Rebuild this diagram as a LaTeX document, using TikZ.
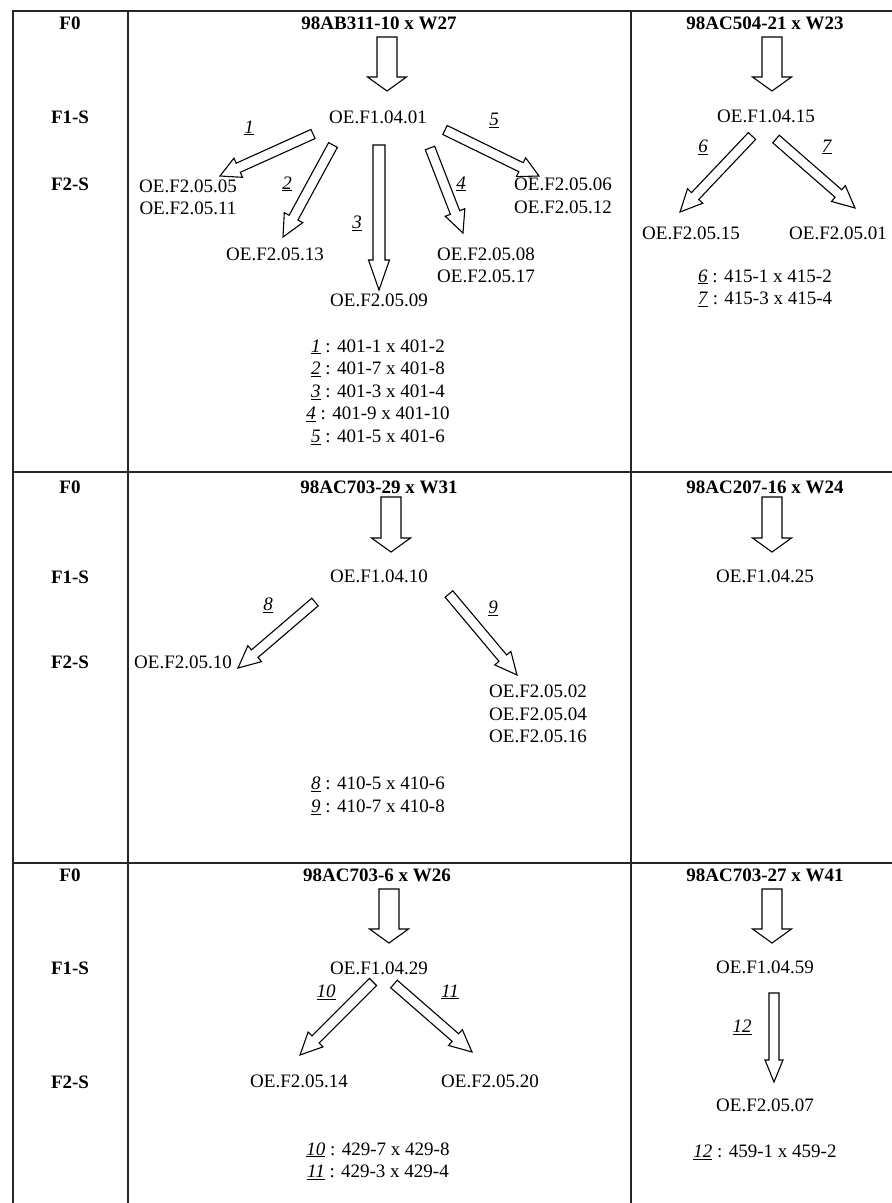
\documentclass[tikz,border=0pt]{standalone}
\usepackage{fontspec}
\setmainfont{Liberation Serif}
\usetikzlibrary{calc}
\tikzset{
  txt/.style={inner sep=0pt, font=\fontsize{19}{22.5}\selectfont, align=center},
  hdr/.style={inner sep=0pt, font=\fontsize{19}{22.5}\selectfont\bfseries, align=center},
  grid/.style={line width=1.6pt, draw=black!85},
  barrow/.style={draw, line width=1.1pt, fill=white, line join=miter},
}
\newcommand\nlab[1]{\underline{\textit{#1}}}
% #1 tail, #2 tip, #3 shaft half width, #4 head half width, #5 head length
\newcommand\blockarr[5]{%
  \path let \p1=(#1), \p2=(#2),
    \n1={atan2(\y2-\y1,\x2-\x1)}, \n2={veclen(\x2-\x1,\y2-\y1)} in
    [barrow, shift={(\p1)}, rotate=\n1]
    (0,#3) -- ({\n2-#5},#3) -- ({\n2-#5},#4) -- ({\n2},0) -- ({\n2-#5},-#4)
    -- ({\n2-#5},-#3) -- (0,-#3) -- cycle;%
}
\begin{document}
\begin{tikzpicture}[x=1pt,y=-1pt]
\useasboundingbox[fill=white] (0,0) rectangle (892,1203);
% table
\draw[grid] (13,1215) -- (13,11) -- (905,11);
\draw[grid] (128,11) -- (128,1215);
\draw[grid] (631,11) -- (631,1215);
\draw[grid] (13,472) -- (905,472);
\draw[grid] (13,863) -- (905,863);

% row labels
\node[hdr] (f0a) at (70,23) {F0};
\node[hdr] (f1a) at (70,117) {F1-S};
\node[hdr] (f2a) at (70,184) {F2-S};
\node[hdr] (f0b) at (70,487) {F0};
\node[hdr] (f1b) at (70,577) {F1-S};
\node[hdr] (f2b) at (70,662) {F2-S};
\node[hdr] (f0c) at (70,875) {F0};
\node[hdr] (f1c) at (70,968) {F1-S};
\node[hdr] (f2c) at (70,1082) {F2-S};

% ---------- row 1, middle ----------
\node[hdr] (h1) at (379,23) {98AB311-10 x W27};
\coordinate (h1s) at (387,37);
\coordinate (h1e) at (387,91);
\blockarr{h1s}{h1e}{10}{19.5}{14}
\node[txt] (p401) at (378,117) {OE.F1.04.01};
\node[txt] (c0505) at (188,197.5) {OE.F2.05.05\\OE.F2.05.11};
\node[txt] (c0513) at (275,254) {OE.F2.05.13};
\node[txt] (c0509) at (379,300) {OE.F2.05.09};
\node[txt] (c0508) at (486,265.5) {OE.F2.05.08\\OE.F2.05.17};
\node[txt] (c0506) at (563,196) {OE.F2.05.06\\OE.F2.05.12};
\coordinate (a1s) at (313,134); \coordinate (a1e) at (220,176);
\coordinate (a2s) at (333,145); \coordinate (a2e) at (283,237);
\coordinate (a3s) at (379,145); \coordinate (a3e) at (379,290);
\coordinate (a4s) at (430,148); \coordinate (a4e) at (463,233);
\coordinate (a5s) at (445,130); \coordinate (a5e) at (539,176);
\blockarr{a1s}{a1e}{5}{10.5}{20}
\blockarr{a2s}{a2e}{5}{10.5}{22}
\blockarr{a3s}{a3e}{6}{10.5}{30}
\blockarr{a4s}{a4e}{5}{10.5}{22}
\blockarr{a5s}{a5e}{5}{10.5}{20}
\node[txt] (l1) at (249,128) {\nlab{1}};
\node[txt] (l2) at (287,184) {\nlab{2}};
\node[txt] (l3) at (357,223) {\nlab{3}};
\node[txt] (l4) at (461,184) {\nlab{4}};
\node[txt] (l5) at (494,120) {\nlab{5}};
\node[txt] (leg1) at (378,392) {\nlab{1} : 401-1 x 401-2\\\nlab{2} : 401-7 x 401-8\\\nlab{3} : 401-3 x 401-4\\\nlab{4} : 401-9 x 401-10\\\nlab{5} : 401-5 x 401-6};

% ---------- row 1, right ----------
\node[hdr] (h2) at (765,23) {98AC504-21 x W23};
\coordinate (h2s) at (772,37);
\coordinate (h2e) at (772,91);
\blockarr{h2s}{h2e}{10}{19.5}{14}
\node[txt] (p415) at (766,116) {OE.F1.04.15};
\node[txt] (c0515) at (691,233) {OE.F2.05.15};
\node[txt] (c0501) at (838,233) {OE.F2.05.01};
\coordinate (a6s) at (752,136); \coordinate (a6e) at (680,212);
\coordinate (a7s) at (776,139); \coordinate (a7e) at (855,208);
\blockarr{a6s}{a6e}{5}{10.5}{22}
\blockarr{a7s}{a7e}{5}{10.5}{22}
\node[txt] (l6) at (703,147) {\nlab{6}};
\node[txt] (l7) at (827,147) {\nlab{7}};
\node[txt] (leg2) at (765,288) {\nlab{6} : 415-1 x 415-2\\\nlab{7} : 415-3 x 415-4};

% ---------- row 2, middle ----------
\node[hdr] (h3) at (379,487) {98AC703-29 x W31};
\coordinate (h3s) at (391,497);
\coordinate (h3e) at (391,552);
\blockarr{h3s}{h3e}{10}{19.5}{14}
\node[txt] (p410) at (379,576) {OE.F1.04.10};
\node[txt] (c0510) at (183,662) {OE.F2.05.10};
\node[txt] (c0502) at (538,714) {OE.F2.05.02\\OE.F2.05.04\\OE.F2.05.16};
\coordinate (a8s) at (315,602); \coordinate (a8e) at (238,668);
\coordinate (a9s) at (449,594); \coordinate (a9e) at (517,675);
\blockarr{a8s}{a8e}{5}{10.5}{22}
\blockarr{a9s}{a9e}{5}{10.5}{22}
\node[txt] (l8) at (268,605) {\nlab{8}};
\node[txt] (l9) at (493,608) {\nlab{9}};
\node[txt] (leg3) at (378,796) {\nlab{8} : 410-5 x 410-6\\\nlab{9} : 410-7 x 410-8};

% ---------- row 2, right ----------
\node[hdr] (h4) at (765,487) {98AC207-16 x W24};
\coordinate (h4s) at (772,497);
\coordinate (h4e) at (772,552);
\blockarr{h4s}{h4e}{10}{19.5}{14}
\node[txt] (p425) at (765,576) {OE.F1.04.25};

% ---------- row 3, middle ----------
\node[hdr] (h5) at (377,875) {98AC703-6 x W26};
\coordinate (h5s) at (389,889);
\coordinate (h5e) at (389,943);
\blockarr{h5s}{h5e}{10}{19.5}{14}
\node[txt] (p429) at (379,968) {OE.F1.04.29};
\node[txt] (c0514) at (299,1081) {OE.F2.05.14};
\node[txt] (c0520) at (490,1081) {OE.F2.05.20};
\coordinate (a10s) at (373,982); \coordinate (a10e) at (300,1055);
\coordinate (a11s) at (394,984); \coordinate (a11e) at (472,1052);
\blockarr{a10s}{a10e}{5}{10.5}{22}
\blockarr{a11s}{a11e}{5}{10.5}{22}
\node[txt] (l10) at (326,992) {\nlab{10}};
\node[txt] (l11) at (450,992) {\nlab{11}};
\node[txt] (leg5) at (378,1161) {\nlab{10} : 429-7 x 429-8\\\nlab{11} : 429-3 x 429-4};

% ---------- row 3, right ----------
\node[hdr] (h6) at (765,875) {98AC703-27 x W41};
\coordinate (h6s) at (772,889);
\coordinate (h6e) at (772,943);
\blockarr{h6s}{h6e}{10}{19.5}{14}
\node[txt] (p459) at (765,967) {OE.F1.04.59};
\coordinate (a12s) at (774,993); \coordinate (a12e) at (774,1082);
\blockarr{a12s}{a12e}{5}{9}{22}
\node[txt] (l12) at (742,1027) {\nlab{12}};
\node[txt] (c0507) at (765,1105) {OE.F2.05.07};
\node[txt] (leg6) at (765,1152) {\nlab{12} : 459-1 x 459-2};
\end{tikzpicture}
\end{document}
